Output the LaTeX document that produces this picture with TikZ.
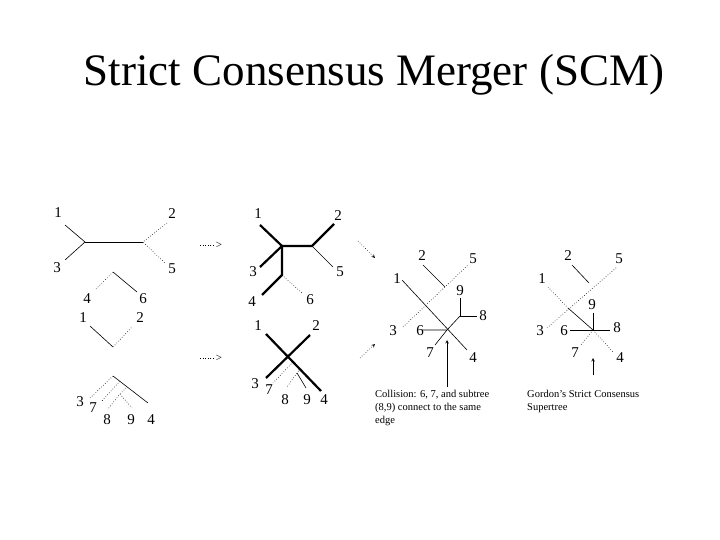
\documentclass[tikz,border=0pt]{standalone}
\usepackage{fontspec}
\setmainfont{Liberation Serif}
\begin{document}
\begin{tikzpicture}[x=1pt,y=-1pt,
  lab/.style={inner sep=0pt,font=\fontsize{15}{15}\selectfont},
  th/.style={line width=0.6pt},
  dt/.style={line width=0.6pt,dotted},
  tk/.style={line width=2.2pt},
  note/.style={inner sep=0pt,anchor=north west,align=left,font=\fontsize{10.5}{13}\selectfont}]
\useasboundingbox[fill=white] (0,0) rectangle (720,540);
\node[inner sep=0pt,font=\fontsize{45}{50}\selectfont] (title) at (374,75) {Strict Consensus Merger (SCM)};
% tree 1
\coordinate (a1) at (85,242); \coordinate (b1) at (143,242);
\node[lab] (l1) at (58,213) {1}; \node[lab] (l3) at (57,268) {3};
\node[lab] (l2) at (172,214) {2}; \node[lab] (l5) at (172,269) {5};
\draw[th] (65,225) -- (a1) -- (65,260); \draw[th] (a1) -- (b1);
\draw[dt] (167,223) -- (b1) -- (165,263);
% tree 2
\coordinate (a2) at (113,272);
\draw[dt] (a2) -- (95,290); \draw[th] (a2) -- (137,292);
\node[lab] (l4b) at (87,299) {4}; \node[lab] (l6b) at (143,299) {6};
% tree 3
\coordinate (a3) at (113,347);
\draw[th] (90,326) -- (a3); \draw[dt] (a3) -- (132,327);
\node[lab] (l1c) at (83,318) {1}; \node[lab] (l2c) at (140,318) {2};
% tree 4
\coordinate (a4) at (113,376); \coordinate (n89) at (126,388); \coordinate (m89) at (120,394);
\draw[th] (a4) -- (148,403);
\draw[dt] (a4) -- (90,398);
\draw[dt] (120,381) -- (101,402);
\draw[dt] (n89) -- (m89) -- (108,409);
\draw[dt] (m89) -- (132,408);
\node[lab] (l3d) at (80,402) {3}; \node[lab] (l7d) at (93,408) {7};
\node[lab] (l8d) at (107,420) {8}; \node[lab] (l9d) at (131,420) {9}; \node[lab] (l4d) at (151,420) {4};
% small arrows
\draw[dt] (200,245) -- (214,245); \node[lab,font=\fontsize{11}{11}\selectfont] (ar1) at (219,245) {>};
\draw[dt] (200,358) -- (214,358); \node[lab,font=\fontsize{11}{11}\selectfont] (ar2) at (219,358) {>};
% middle top
\coordinate (A) at (282,246); \coordinate (B) at (312,246); \coordinate (C) at (282,275);
\draw[tk] (260,225) -- (A) -- (260,267); \draw[tk] (A) -- (B) -- (334,224);
\draw[tk] (A) -- (C) -- (262,295);
\draw[th] (B) -- (333,267); \draw[dt] (C) -- (302,293);
\node[lab] (m1) at (258,214) {1}; \node[lab] (m3) at (253,272) {3}; \node[lab] (m4) at (252,302) {4};
\node[lab] (m6) at (310,300) {6}; \node[lab] (m2) at (338,216) {2}; \node[lab] (m5) at (340,272) {5};
% middle bottom
\coordinate (X) at (288,357); \coordinate (Y) at (300,369); \coordinate (Z) at (297,373);
\draw[tk] (266,334) -- (321,391); \draw[tk] (310,335) -- (266,378);
\draw[dt] (293,362) -- (273,383);
\draw[dt] (Y) -- (Z) -- (287,387); \draw[th] (Z) -- (306,388);
\node[lab] (n1) at (258,326) {1}; \node[lab] (n2) at (316,326) {2}; \node[lab] (n3) at (255,384) {3};
\node[lab] (n7) at (269,390) {7}; \node[lab] (n8) at (285,400) {8}; \node[lab] (n9) at (307,400) {9};
\node[lab] (n4) at (324,400) {4};
% dotted arrows
\draw[dt,-stealth] (358,241) -- (375,258);
\draw[dt,-stealth] (360,358) -- (375,344);
% collision tree
\coordinate (P) at (447,330); \coordinate (R) at (460,316);
\draw[dt] (403,327) -- (468,265);
\draw[th] (423,265) -- (445,287);
\draw[th] (402,280) -- (467,350);
\draw[th] (422,330) -- (P) -- (435,345);
\draw[th] (P) -- (R); \draw[th] (460,298) -- (R) -- (477,316);
\node[lab] (c2) at (422,256) {2}; \node[lab] (c5) at (473,259) {5}; \node[lab] (c1) at (397,279) {1};
\node[lab] (c3) at (393,331) {3}; \node[lab] (c6) at (420,331) {6}; \node[lab] (c7) at (430,353) {7};
\node[lab] (c4) at (473,358) {4}; \node[lab] (c9) at (460,291) {9}; \node[lab] (c8) at (483,316) {8};
\coordinate (ca) at (447,387);
\draw[th,-stealth] (ca) -- (447,340);
\node[note] (ct) at (375,390) {Collision: 6, 7, and subtree\\(8,9) connect to the same\\edge};
% Gordon tree
\coordinate (Q) at (593,330);
\draw[dt] (547,328) -- (617,267);
\draw[th] (572,265) -- (589,283);
\draw[dt] (548,287) -- (568,308); \draw[th] (568,308) -- (Q); \draw[dt] (Q) -- (613,352);
\draw[th] (593,313) -- (Q); \draw[th] (570,330) -- (610,330);
\draw[dt] (Q) -- (580,346);
\node[lab] (g2) at (568,256) {2}; \node[lab] (g5) at (619,259) {5}; \node[lab] (g1) at (542,279) {1};
\node[lab] (g3) at (540,331) {3}; \node[lab] (g6) at (564,331) {6}; \node[lab] (g9) at (592,305) {9};
\node[lab] (g8) at (617,328) {8}; \node[lab] (g7) at (575,353) {7}; \node[lab] (g4) at (620,358) {4};
\coordinate (ga) at (593,375);
\draw[th,-stealth] (ga) -- (593,358);
\node[note] (gt) at (527,390) {Gordon's Strict Consensus\\Supertree};
\end{tikzpicture}
\end{document}
